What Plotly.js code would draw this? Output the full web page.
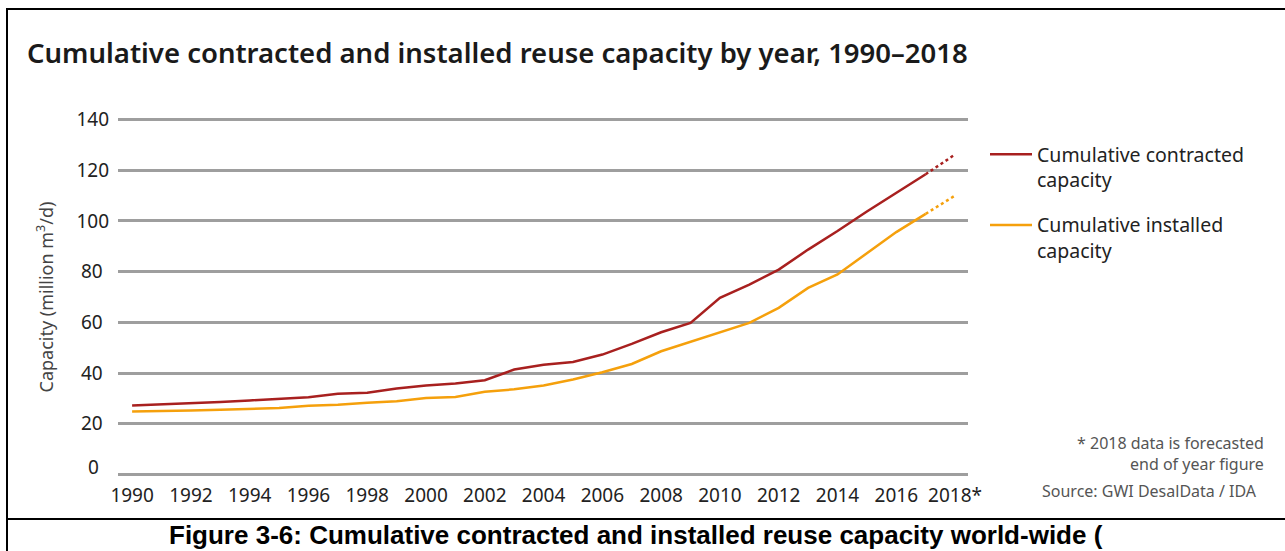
<!DOCTYPE html>
<html>
<head>
<meta charset="utf-8">
<script src="https://cdn.plot.ly/plotly-3.0.1.min.js"></script>
<style>
  html, body { margin: 0; padding: 0; background: #fff; }
  #chart { width: 1285px; height: 551px; }
</style>
</head>
<body>
<div id="chart"></div>
<script>
// ---- data ----
const years = [1990,1991,1992,1993,1994,1995,1996,1997,1998,1999,2000,2001,2002,2003,2004,2005,2006,2007,2008,2009,2010,2011,2012,2013,2014,2015,2016,2017,2018];
const contracted = [27.2,27.6,28.0,28.6,29.2,29.9,30.5,31.8,32.2,33.9,35.1,35.9,37.2,41.4,43.3,44.4,47.3,51.5,56.1,59.8,69.7,74.9,80.8,88.7,96.0,103.7,111.0,118.4,126.2];
const installed = [24.8,24.9,25.2,25.5,25.8,26.2,27.1,27.5,28.3,28.9,30.2,30.6,32.6,33.6,35.1,37.5,40.3,43.6,48.6,52.3,56.1,59.8,65.7,73.6,78.9,87.2,95.6,102.8,110.0];
const forecastYear = 2018;
const xTickVals = [1990,1992,1994,1996,1998,2000,2002,2004,2006,2008,2010,2012,2014,2016,2018];
const xTickText = ['1990','1992','1994','1996','1998','2000','2002','2004','2006','2008','2010','2012','2014','2016','2018*'];
const yTickVals = [20,40,60,80,100,120,140];
const yTickText = ['20\u2009\u2009', '40\u2009\u2009', '60\u2009\u2009', '80\u2009\u2009', '100', '120', '140'];
const nameContracted = 'Cumulative contracted<br>capacity';
const nameInstalled = 'Cumulative installed<br>capacity';

const RED = '#a8201f';
const ORANGE = '#f5a00c';
const FONT = '"Noto Sans", "Open Sans", sans-serif';

// split actual vs forecast
const fi = years.indexOf(forecastYear);
const solidX = years.slice(0, fi);
const dotX = years.slice(fi - 1);

const traces = [
  {x: solidX, y: contracted.slice(0, fi), name: nameContracted, legendgroup: 'c', mode: 'lines',
   line: {color: RED, width: 2.5}, hoverinfo: 'x+y'},
  {x: solidX, y: installed.slice(0, fi), name: nameInstalled, legendgroup: 'i', mode: 'lines',
   line: {color: ORANGE, width: 2.5}, hoverinfo: 'x+y'},
  {x: dotX, y: contracted.slice(fi - 1), mode: 'lines', showlegend: false, legendgroup: 'c',
   line: {color: RED, width: 2.5, dash: 'dot'}, hoverinfo: 'x+y'},
  {x: dotX, y: installed.slice(fi - 1), mode: 'lines', showlegend: false, legendgroup: 'i',
   line: {color: ORANGE, width: 2.5, dash: 'dot'}, hoverinfo: 'x+y'}
];

// pixel helpers for the frame (plot area: x 118..968, y 117..477)
const L = 118, R = 968, T = 117, B = 477;
const px = v => (v - L) / (R - L);
const py = v => (B - v) / (B - T);

const layout = {
  width: 1285, height: 551,
  margin: {l: L, r: 1285 - R, t: T, b: 551 - B, pad: 0},
  paper_bgcolor: '#fff', plot_bgcolor: '#fff',
  font: {family: FONT, color: '#222'},
  title: {
    text: 'Cumulative contracted and installed reuse capacity by year, 1990\u20132018',
    font: {family: FONT, size: 27.5, color: '#1a1a1a', weight: 600},
    xref: 'container', yref: 'container', x: 27/1285, xanchor: 'left',
    y: 1 - 53/551, yanchor: 'middle'
  },
  xaxis: {
    range: [1989.52, 2018.44],
    tickvals: xTickVals, ticktext: xTickText,
    showgrid: false, zeroline: false, showline: false, ticks: '',
    tickfont: {size: 19, color: '#222'},
    ticklabelstandoff: 5,
    fixedrange: true
  },
  yaxis: {
    range: [-0.98, 140.98],
    tickvals: yTickVals, ticktext: yTickText,
    showgrid: true, gridcolor: '#9e9e9e', gridwidth: 3,
    zeroline: true, zerolinecolor: '#9e9e9e', zerolinewidth: 3,
    showline: false, ticks: '',
    tickfont: {size: 19, color: '#222'},
    ticklabelstandoff: 8,
    title: {text: 'Capacity (million m<sup>3</sup>/d)', font: {size: 18, color: '#444'}, standoff: 18},
    fixedrange: true
  },
  legend: {
    x: px(985), xanchor: 'left', y: py(135), yanchor: 'top',
    font: {size: 19.5, color: '#222'},
    valign: 'top', bgcolor: 'rgba(0,0,0,0)', borderwidth: 0,
    itemwidth: 42, tracegroupgap: 17,
    itemclick: false, itemdoubleclick: false
  },
  showlegend: true,
  shapes: [
    {type: 'line', xref: 'paper', yref: 'paper', x0: px(7), x1: px(7), y0: py(8), y1: py(551), line: {color: '#000', width: 2}},
    {type: 'line', xref: 'paper', yref: 'paper', x0: px(6), x1: px(1285), y0: py(9), y1: py(9), line: {color: '#000', width: 2}},
    {type: 'line', xref: 'paper', yref: 'paper', x0: px(6), x1: px(1285), y0: py(519), y1: py(519), line: {color: '#000', width: 2}}
  ],
  annotations: [
    {text: '0', xref: 'paper', yref: 'y', x: px(93), y: 0, yshift: 8, xanchor: 'center', yanchor: 'middle',
     showarrow: false, font: {size: 19, color: '#222'}},
    {text: '* 2018 data is forecasted', xref: 'paper', yref: 'paper', x: px(1266), y: py(443), xanchor: 'right', yanchor: 'middle',
     showarrow: false, font: {size: 16, color: '#555'}},
    {text: 'end of year figure', xref: 'paper', yref: 'paper', x: px(1266), y: py(464), xanchor: 'right', yanchor: 'middle',
     showarrow: false, font: {size: 16, color: '#555'}},
    {text: 'Source: GWI DesalData / IDA', xref: 'paper', yref: 'paper', x: px(1259), y: py(491), xanchor: 'right', yanchor: 'middle',
     showarrow: false, font: {size: 16, color: '#555'}},
    {text: '<b>Figure 3-6: Cumulative contracted and installed reuse capacity world-wide (</b>', xref: 'paper', yref: 'paper',
     x: px(636), y: py(535), xanchor: 'center', yanchor: 'middle', showarrow: false,
     font: {family: '"Liberation Sans", Arial, sans-serif', size: 26, color: '#000'}}
  ]
};

Plotly.newPlot('chart', traces, layout, {displayModeBar: false, staticPlot: true});
</script>
</body>
</html>
